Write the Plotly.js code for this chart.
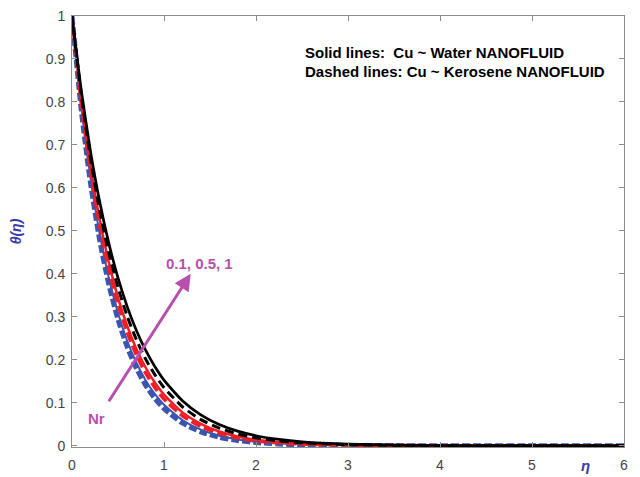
<!DOCTYPE html>
<html>
<head>
<meta charset="utf-8">
<script src="https://cdn.plot.ly/plotly-3.0.1.min.js"></script>
<style>html,body{margin:0;padding:0;background:#fff}#plot{width:640px;height:477px}</style>
</head>
<body>
<div id="plot"></div>
<script>
// eta grid (read positions)
const eta = [0, 0.1, 0.2, 0.3, 0.4, 0.5, 0.6, 0.7, 0.8, 0.9, 1.0, 1.2, 1.4, 1.6, 1.8, 2.0, 2.25, 2.5, 3, 3.5, 4, 5, 6];

// Solid lines: Cu ~ Water nanofluid (Nr = 0.1, 0.5, 1)
const waterNr01 = [1, 0.7906, 0.6250, 0.4941, 0.3906, 0.3088, 0.2441, 0.1930, 0.1526, 0.1206, 0.0954, 0.0596, 0.0373, 0.0233, 0.0146, 0.0091, 0.0051, 0.0028, 0.0009, 0.0003, 0.0001, 0, 0];
const waterNr05 = [1, 0.8082, 0.6531, 0.5278, 0.4266, 0.3447, 0.2786, 0.2252, 0.1820, 0.1471, 0.1188, 0.0776, 0.0507, 0.0331, 0.0216, 0.0141, 0.0083, 0.0049, 0.0017, 0.0006, 0.0002, 0, 0];
const waterNr1  = [1, 0.8286, 0.6866, 0.5689, 0.4714, 0.3906, 0.3237, 0.2682, 0.2222, 0.1842, 0.1526, 0.1048, 0.0719, 0.0494, 0.0339, 0.0233, 0.0146, 0.0091, 0.0036, 0.0014, 0.0005, 0.0001, 0];

// Dashed lines: Cu ~ Kerosene nanofluid (Nr = 0.1, 0.5, 1)
const keroNr01 = [1, 0.7827, 0.6126, 0.4795, 0.3753, 0.2938, 0.2299, 0.1800, 0.1409, 0.1103, 0.0863, 0.0529, 0.0324, 0.0198, 0.0122, 0.0074, 0.0040, 0.0022, 0.0006, 0.0002, 0, 0, 0];
const keroNr05 = [1, 0.8009, 0.6415, 0.5138, 0.4115, 0.3296, 0.2640, 0.2114, 0.1693, 0.1356, 0.1086, 0.0697, 0.0447, 0.0287, 0.0184, 0.0118, 0.0068, 0.0039, 0.0013, 0.0004, 0.0001, 0, 0];
const keroNr1  = [1, 0.8187, 0.6703, 0.5488, 0.4493, 0.3679, 0.3012, 0.2466, 0.2019, 0.1653, 0.1353, 0.0907, 0.0608, 0.0408, 0.0273, 0.0183, 0.0111, 0.0067, 0.0025, 0.0009, 0.0003, 0, 0];

const xTicks = [0, 1, 2, 3, 4, 5, 6];
const yTicks = [0, 0.1, 0.2, 0.3, 0.4, 0.5, 0.6, 0.7, 0.8, 0.9, 1];

const BLUE = '#3b55b0', RED = '#f01e24', BLACK = '#000000', MAG = '#b84fae';
const FONT = 'Liberation Sans, Arial, sans-serif';

function tr(y, color, width, dash) {
  return {x: eta, y: y, type: 'scatter', mode: 'lines', cliponaxis: false,
    line: {color: color, width: width, dash: dash, shape: 'spline', smoothing: 0.6}, showlegend: false};
}

const data = [
  tr(keroNr01, BLUE, 5, '8px,3px'),
  tr(waterNr01, BLUE, 2, 'solid'),
  tr(keroNr05, RED, 3.5, '10px,4px'),
  tr(waterNr05, RED, 2.5, 'solid'),
  tr(keroNr1, BLACK, 3, '9px,5px'),
  tr(waterNr1, BLACK, 2.7, 'solid')
];

const layout = {
  width: 640, height: 477,
  margin: {l: 72, r: 16, t: 16, b: 30},
  paper_bgcolor: '#fff', plot_bgcolor: '#fff',
  font: {family: FONT, size: 14, color: '#444'},
  xaxis: {range: [0, 6], tickvals: xTicks, ticktext: xTicks.map(String), showgrid: false, zeroline: false,
    showline: true, linecolor: '#8c8c8c', linewidth: 1, mirror: 'ticks', ticks: 'inside', ticklen: 5,
    tickcolor: '#8c8c8c', tickfont: {size: 14, color: '#444'}, ticklabelstandoff: 5},
  yaxis: {range: [-0.003, 1], tickvals: yTicks, ticktext: yTicks.map(String), showgrid: false, zeroline: false,
    showline: true, linecolor: '#8c8c8c', linewidth: 1, mirror: 'ticks', ticks: 'inside', ticklen: 5,
    tickcolor: '#8c8c8c', tickfont: {size: 14, color: '#444'}, ticklabelstandoff: 3,
    title: {text: '<b><i>θ(η)</i></b>', font: {size: 14, color: '#3a3aaa'}, standoff: 20}},
  annotations: [
    {x: 1.29, y: 0.40, ax: 0.39, ay: 0.10, xref: 'x', yref: 'y', axref: 'x', ayref: 'y',
      showarrow: true, arrowhead: 2, arrowsize: 1.1, arrowwidth: 3, arrowcolor: MAG, text: ''},
    {x: 0.27, y: 0.063, xref: 'x', yref: 'y', text: '<b>Nr</b>', showarrow: false,
      font: {size: 15, color: MAG, family: FONT}},
    {x: 1.39, y: 0.425, xref: 'x', yref: 'y', text: '<b>0.1, 0.5, 1</b>', showarrow: false,
      font: {size: 15, color: MAG, family: FONT}},
    {x: 0.418, y: 0.916, xref: 'paper', yref: 'paper', xanchor: 'left', yanchor: 'middle',
      text: '<b>Solid lines:  Cu ~ Water NANOFLUID</b>', showarrow: false,
      font: {size: 15, color: '#000', family: FONT}},
    {x: 0.418, y: 0.872, xref: 'paper', yref: 'paper', xanchor: 'left', yanchor: 'middle',
      text: '<b>Dashed lines: Cu ~ Kerosene NANOFLUID</b>', showarrow: false,
      font: {size: 15, color: '#000', family: FONT}},
    {x: 0.93, y: -0.043, xref: 'paper', yref: 'paper', xanchor: 'center', yanchor: 'middle',
      text: '<b><i>η</i></b>', showarrow: false,
      font: {size: 15, color: '#3a3aaa', family: FONT}}
  ]
};

Plotly.newPlot('plot', data, layout, {displayModeBar: false, staticPlot: true});
</script>
</body>
</html>
